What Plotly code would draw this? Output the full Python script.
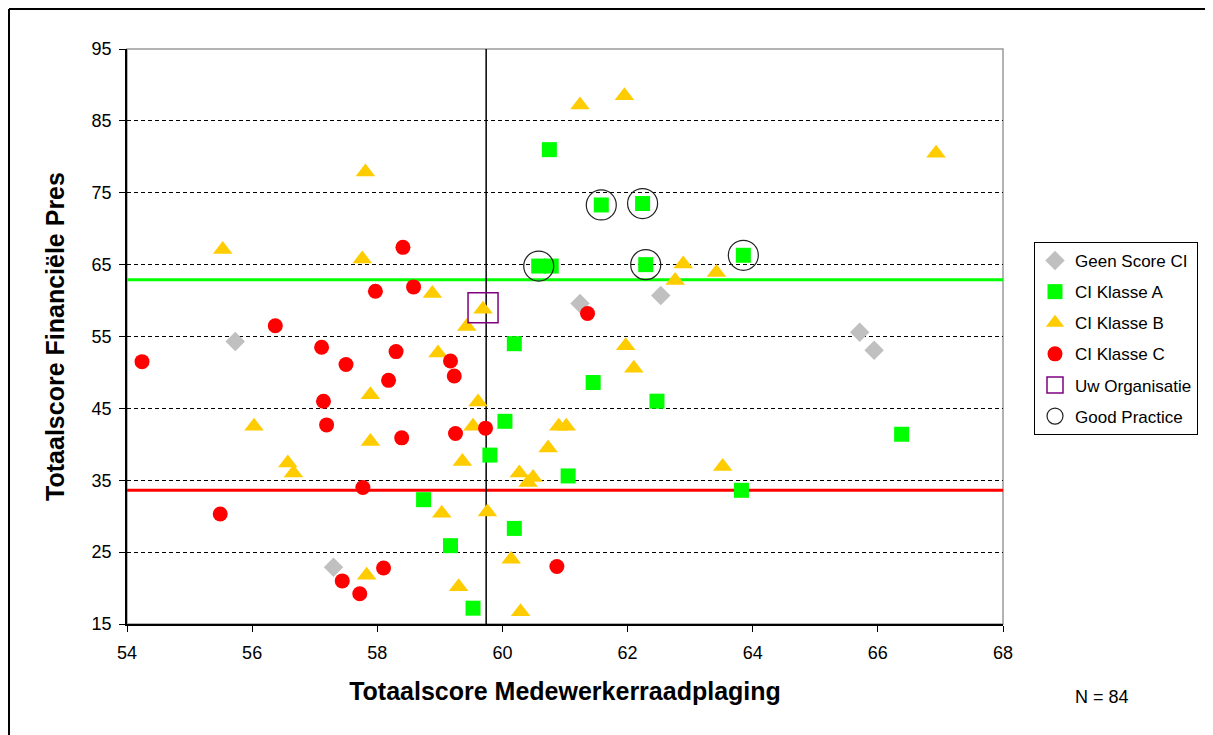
import plotly.graph_objects as go

# ---- data ----
geen_x = [55.73, 57.30, 61.24, 62.53, 65.71, 65.94]
geen_y = [54.3, 22.9, 59.6, 60.7, 55.6, 53.1]

a_x = [60.75, 61.58, 62.24, 60.58, 60.78, 62.29, 63.85, 60.19, 61.45, 62.47,
       60.04, 59.80, 61.05, 58.74, 60.19, 59.17, 59.53, 66.38, 63.82]
a_y = [81.0, 73.3, 73.5, 64.8, 64.8, 65.0, 66.3, 54.0, 48.6, 46.0,
       43.2, 38.5, 35.6, 32.3, 28.3, 25.9, 17.2, 41.4, 33.6]

b_x = [57.81, 55.53, 57.76, 61.24, 61.95, 58.88, 59.69, 59.43, 62.89, 62.76,
       66.93, 63.42, 63.52, 57.89, 56.03, 57.89, 56.57, 56.66, 57.83, 61.97,
       62.10, 58.97, 59.61, 59.53, 60.90, 61.02, 60.73, 59.36, 60.27, 60.49,
       60.41, 59.03, 59.76, 60.14, 59.30, 60.29]
b_y = [77.9, 67.1, 65.8, 87.2, 88.5, 61.0, 58.8, 56.4, 65.1, 62.8,
       80.5, 63.9, 36.9, 46.9, 42.5, 40.4, 37.4, 36.0, 21.8, 53.7,
       50.6, 52.7, 45.9, 42.5, 42.5, 42.5, 39.5, 37.6, 36.0, 35.4,
       34.7, 30.4, 30.6, 24.0, 20.2, 16.7]

c_x = [58.41, 57.97, 58.58, 56.37, 54.24, 57.11, 58.30, 57.50, 58.18, 57.14,
       57.19, 58.39, 57.77, 55.49, 57.44, 58.10, 57.72, 61.36, 59.17, 59.23,
       59.73, 59.25, 60.87]
c_y = [67.4, 61.3, 61.9, 56.5, 51.5, 53.5, 52.9, 51.1, 48.9, 46.0,
       42.7, 40.9, 34.0, 30.3, 21.0, 22.8, 19.2, 58.2, 51.6, 49.5,
       42.25, 41.5, 23.0]

uw_x = [59.69]
uw_y = [59.0]

gp_x = [61.58, 62.24, 60.58, 62.29, 63.85]
gp_y = [73.3, 73.5, 64.8, 65.0, 66.3]

green_line = 62.9
red_line = 33.6
mean_x = 59.74

x_ticks = [54, 56, 58, 60, 62, 64, 66, 68]
y_ticks = [15, 25, 35, 45, 55, 65, 75, 85, 95]
n_label = "N = 84"

FONT = "Liberation Sans, Arial, sans-serif"

# page body has an 8px margin; plot area target: x 127..1003, y 49..624
PW, PH = 876, 575
def px(xp):  # page x -> paper
    return (xp - 127) / PW
def py(yp):  # page y -> paper
    return (624 - yp) / PH

fig = go.Figure()

def add(name, xs, ys, symbol, size, color, line_color=None, line_width=0):
    fig.add_trace(go.Scatter(
        x=xs, y=ys, mode="markers", name=name, legendgroup=name,
        marker=dict(symbol=symbol, size=size, color=color,
                    line=dict(color=line_color or color, width=line_width)),
        cliponaxis=False,
    ))

add("Geen Score CI", geen_x, geen_y, "diamond", 15, "#C0C0C0")
add("CI Klasse A", a_x, a_y, "square", 15, "#00FF00")
add("CI Klasse B", b_x, b_y, "triangle-up", 17, "#FFCC00")
add("CI Klasse C", c_x, c_y, "circle", 15, "#FF0000")
add("Uw Organisatie", uw_x, uw_y, "square-open", 30, "#800080", "#800080", 1.5)
add("Good Practice", gp_x, gp_y, "circle-open", 30, "#222222", "#222222", 1.2)

shapes = [
    dict(type="rect", xref="paper", yref="paper", x0=0, x1=1, y0=0, y1=1,
         line=dict(color="#9A9A9A", width=1.5), layer="below"),
    dict(type="line", xref="paper", yref="y", x0=0, x1=1, y0=green_line, y1=green_line,
         line=dict(color="#00FF00", width=3), layer="between"),
    dict(type="line", xref="paper", yref="y", x0=0, x1=1, y0=red_line, y1=red_line,
         line=dict(color="#FF0000", width=3), layer="between"),
    dict(type="line", xref="x", yref="paper", x0=mean_x, x1=mean_x, y0=0, y1=1,
         line=dict(color="#000000", width=1.5), layer="between"),
    # outer frame (top and left)
    dict(type="line", xref="paper", yref="paper", x0=px(9), x1=px(1230), y0=py(9), y1=py(9),
         line=dict(color="#000000", width=2)),
    dict(type="line", xref="paper", yref="paper", x0=px(9), x1=px(9), y0=py(760), y1=py(9),
         line=dict(color="#000000", width=2)),
]

fig.update_layout(
    width=1205, height=727,
    margin=dict(l=119, r=210, t=41, b=111, autoexpand=False),
    paper_bgcolor="white", plot_bgcolor="white",
    font=dict(family=FONT, color="#000000", size=18),
    showlegend=True,
    legend=dict(
        x=px(1034), y=py(242), xanchor="left", yanchor="top",
        bordercolor="#000000", borderwidth=1, bgcolor="white",
        font=dict(family=FONT, size=17, color="#000000"),
        traceorder="grouped", tracegroupgap=6, itemsizing="trace",
    ),
    shapes=shapes,
    annotations=[dict(text=n_label, xref="paper", yref="paper",
                      x=px(1102), y=py(697), xanchor="center", yanchor="middle",
                      showarrow=False, font=dict(family=FONT, size=18))],
)

fig.update_xaxes(
    range=[54, 68], tickvals=x_ticks, ticktext=[str(v) for v in x_ticks],
    showgrid=False, zeroline=False,
    showline=True, linecolor="#000000", linewidth=1.5,
    ticks="outside", ticklen=6, tickcolor="#000000", tickwidth=1,
    ticklabelstandoff=6,
    tickfont=dict(family=FONT, size=18),
    title=dict(text="<b>Totaalscore Medewerkerraadplaging</b>",
               font=dict(family=FONT, size=25), standoff=20),
)
fig.update_yaxes(
    range=[15, 95], tickvals=y_ticks, ticktext=[str(v) for v in y_ticks],
    showgrid=True, gridcolor="#000000", gridwidth=1, griddash="4px,3px",
    zeroline=False,
    showline=True, linecolor="#000000", linewidth=1.5,
    ticks="outside", ticklen=6, tickcolor="#000000", tickwidth=1,
    ticklabelstandoff=4,
    tickfont=dict(family=FONT, size=18),
    title=dict(text="<b>Totaalscore Financiële Pres</b>",
               font=dict(family=FONT, size=25), standoff=20),
)

fig.write_html("out.html")
